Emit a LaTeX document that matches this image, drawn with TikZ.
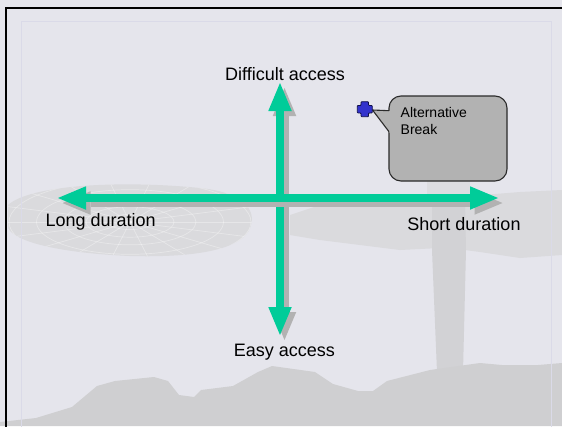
\documentclass[tikz,border=0pt]{standalone}
\usepackage{fontspec}
\setmainfont{Liberation Sans}
\usetikzlibrary{arrows.meta}

\definecolor{bgcol}{HTML}{E5E5EC}
\definecolor{scenery}{HTML}{DADADD}
\definecolor{towertop}{HTML}{DDDDE1}
\definecolor{towercol}{HTML}{D2D2D5}
\definecolor{groundcol}{HTML}{CFCFD1}
\definecolor{faintblue}{HTML}{DADAE8}
\definecolor{axisgreen}{HTML}{00CC99}
\definecolor{shadowgray}{HTML}{B2B2B2}
\definecolor{calloutfill}{HTML}{B2B2B2}
\definecolor{calloutline}{HTML}{2A2A2A}
\definecolor{pinblue}{HTML}{3333CC}
\definecolor{pinline}{HTML}{10104A}

\begin{document}
\begin{tikzpicture}[x=1pt,y=-1pt,
  axistip/.tip={Triangle[length=28pt,width=23.5pt,line width=0pt]},
  axisline/.style={line width=8.5pt,axistip-axistip},
  axisfill/.style={axisline,draw=axisgreen,fill=axisgreen},
  axisshadow/.style={axisline,draw=shadowgray,fill=shadowgray,
    transform canvas={xshift=4.5pt,yshift=-5pt}},
  axislabel/.style={font=\fontsize{18}{21}\selectfont,inner sep=0pt,anchor=base},
  calloutbox/.style={draw=calloutline,fill=calloutfill,line width=1.1pt,
    rounded corners=12pt,minimum width=118pt,minimum height=85pt,inner sep=0pt},
  callouttext/.style={font=\fontsize{14}{17}\selectfont,align=left,
    inner sep=0pt,anchor=north west},
  pinmark/.style={fill=pinblue,draw=pinline,line width=0.8pt,rounded corners=0.8pt},
  webline/.style={white,line width=0.7pt,opacity=0.35}]

% page area
\useasboundingbox (0,0) rectangle (562,426);
\clip (0,0) rectangle (562,426);
\fill[bgcol] (0,0) rectangle (562,426);

% faded scenery: web-like wheel on the left
\begin{scope}
  \clip (8,205) .. controls (30,185) and (120,180) .. (200,188)
        .. controls (240,192) and (258,208) .. (250,228)
        .. controls (243,248) and (200,258) .. (130,256)
        .. controls (60,253) and (15,242) .. (8,228) -- cycle;
  \fill[scenery] (0,170) rectangle (270,270);
  \foreach \r in {20,40,60,85,110}
    \draw[webline] (130,222) ellipse [x radius=\r*1.1, y radius=\r*0.38];
  \foreach \a in {0,20,...,340}
    \draw[webline] (130,222) -- ++(\a:130 and 45);
\end{scope}

% faded scenery: band and tower on the right
\fill[scenery] (290,215) -- (320,205) -- (380,203) -- (430,198) -- (470,196)
  -- (520,192) -- (562,190) -- (562,255) -- (520,258) -- (480,252)
  -- (465,250) -- (440,248) -- (400,250) -- (360,245) -- (320,240)
  -- (290,235) -- cycle;
\fill[towertop] (427,140) rectangle (470,198);
\fill[towercol] (432,200) -- (465,200) -- (466,250) -- (463,372)
  -- (437,372) -- (432,250) -- cycle;

% faded scenery: ground line along the bottom
\fill[groundcol] (0,422) -- (36,418) -- (72,407) -- (97,386) -- (115,381)
  -- (154,377) -- (168,381) -- (179,395) -- (194,397) -- (201,390)
  -- (233,386) -- (258,372) -- (272,366) -- (315,372) -- (333,384)
  -- (358,391) -- (373,391) -- (387,381) -- (430,370) -- (480,363)
  -- (502,365) -- (538,365) -- (562,363) -- (562,426) -- (0,426) -- cycle;

% frame lines
\draw[faintblue,line width=1.5pt] (21.5,430) -- (21.5,21.5) -- (551.5,21.5) -- (551.5,430);
\draw[black,line width=2pt] (6,430) -- (6,8.3) -- (566,8.3);

% axis end points
\coordinate (up) at (280,83);
\coordinate (down) at (280,335);
\coordinate (left) at (58,198);
\coordinate (right) at (498,198);

% vertical axis, then horizontal axis on top
\draw[axisshadow] (up) -- (down);
\draw[axisfill] (up) -- (down);
\draw[axisshadow] (left) -- (right);
\draw[axisfill] (left) -- (right);

% axis labels
\node[axislabel] (difficult) at (285,80) {Difficult access};
\node[axislabel] (easy) at (284.5,356.5) {Easy access};
\node[axislabel] (long) at (100.7,226) {Long duration};
\node[axislabel] (short) at (464,230) {Short duration};

% callout
\node[calloutbox] (box) at (448,138.5) {};
\coordinate (pin) at (364.8,109.2);
\coordinate (tip) at (372.5,110);
\coordinate (wa) at (389,110.7);
\coordinate (wb) at (389,131.7);
\coordinate (wa2) at (390.6,110.8);
\coordinate (wb2) at (390.6,133.8);
\fill[calloutfill] (tip) -- (wa2) -- (wb2) -- cycle;
\draw[calloutline,line width=1.1pt,line join=round] (wa) -- (tip) -- (wb);
\node[callouttext] (boxtext) at (400.5,107) {Alternative\\Break};

% pin marker
\path[pinmark] (pin) ++(-3.75,-7.5) -- ++(7.5,0) -- ++(0,3.75) -- ++(3.75,0)
  -- ++(0,7.5) -- ++(-3.75,0) -- ++(0,3.75) -- ++(-7.5,0) -- ++(0,-3.75)
  -- ++(-3.75,0) -- ++(0,-7.5) -- ++(3.75,0) -- cycle;
\end{tikzpicture}
\end{document}
